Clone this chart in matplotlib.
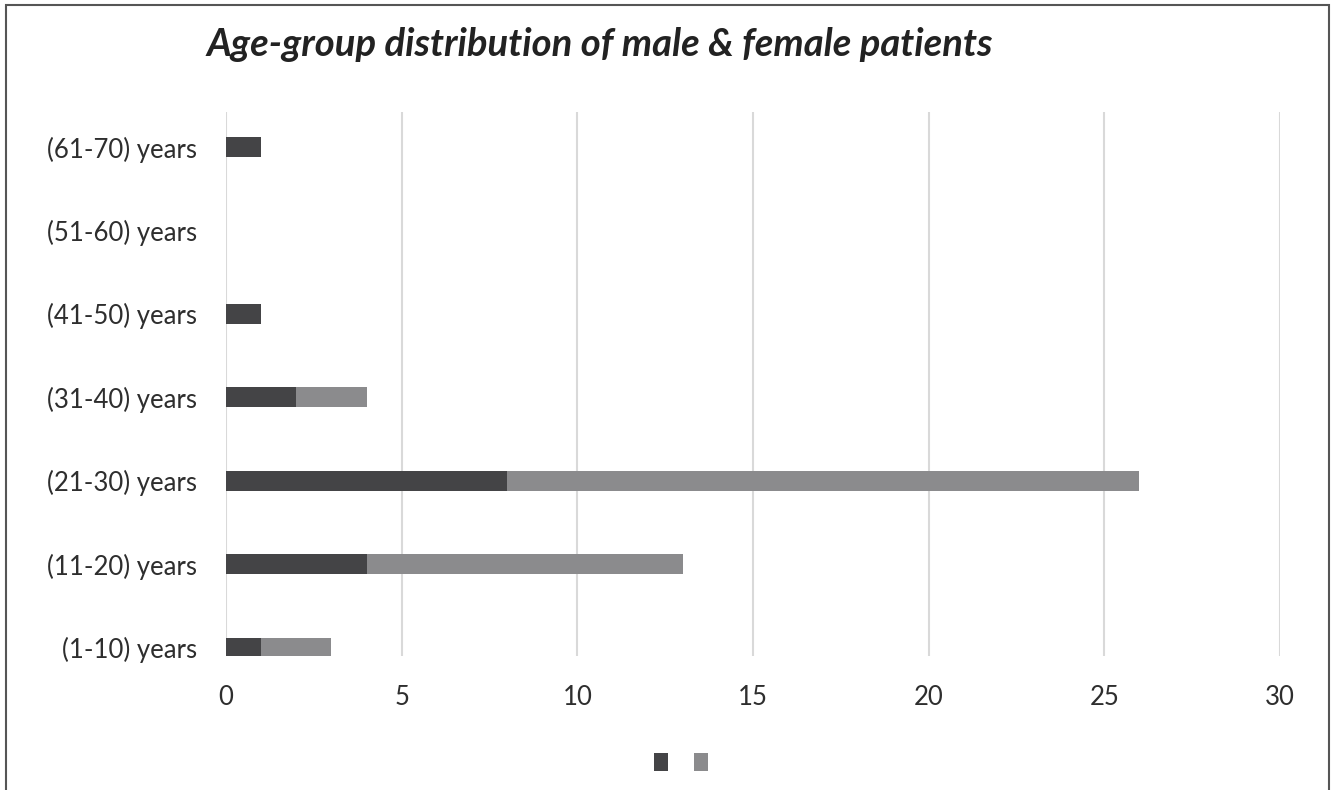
import matplotlib
matplotlib.use("Agg")
import matplotlib.pyplot as plt
from matplotlib.patches import Rectangle, Patch

categories = ["(1-10) years", "(11-20) years", "(21-30) years", "(31-40) years",
              "(41-50) years", "(51-60) years", "(61-70) years"]
male = [1, 4, 8, 2, 1, 0, 1]
female = [2, 9, 18, 2, 0, 0, 0]
xticks = [0, 5, 10, 15, 20, 25, 30]

dark = "#444446"
light = "#8b8b8d"

plt.rcParams['font.family'] = ['Lato', 'DejaVu Sans']

fig = plt.figure(figsize=(13.35, 7.9), dpi=100)
ax = fig.add_axes([0.1693, 0.1696, 0.7895, 0.6886])

y = list(range(len(categories)))
ax.barh(y, male, height=0.24, color=dark, zorder=3)
ax.barh(y, female, left=male, height=0.24, color=light, zorder=3)

ax.set_xlim(0, 30)
ax.set_ylim(-0.1, 6.42)
ax.set_xticks(xticks)
ax.set_xticklabels([str(t) for t in xticks])
ax.set_yticks(y)
ax.set_yticklabels(categories)
ax.tick_params(axis='both', length=0, labelsize=18.5, colors="#2e2e2e")
ax.tick_params(axis='x', pad=21)
ax.tick_params(axis='y', pad=21)
for s in ax.spines.values():
    s.set_visible(False)
ax.grid(axis='x', color="#d9d9d9", linewidth=1.5, zorder=0)
ax.set_axisbelow(True)

fig.text(207 / 1335, 1 - 45 / 790, "Age-group distribution of male & female patients",
         fontsize=27.5, fontweight='bold', fontstyle='italic', color="#222222",
         va='center', ha='left')

handles = [Patch(facecolor=dark), Patch(facecolor=light)]
fig.legend(handles, ["", ""], loc='center', bbox_to_anchor=(681 / 1335, 1 - 762 / 790),
           ncol=2, frameon=False, handlelength=1.0, handleheight=1.7,
           handletextpad=0, columnspacing=1.9, fontsize=10)

fig.patches.append(Rectangle((6 / 1335, -0.01), (1329 - 6) / 1335, 1.01 - 5 / 790,
                             transform=fig.transFigure, fill=False,
                             edgecolor="#555555", linewidth=1.5))

fig.savefig("out.png", dpi=100)
